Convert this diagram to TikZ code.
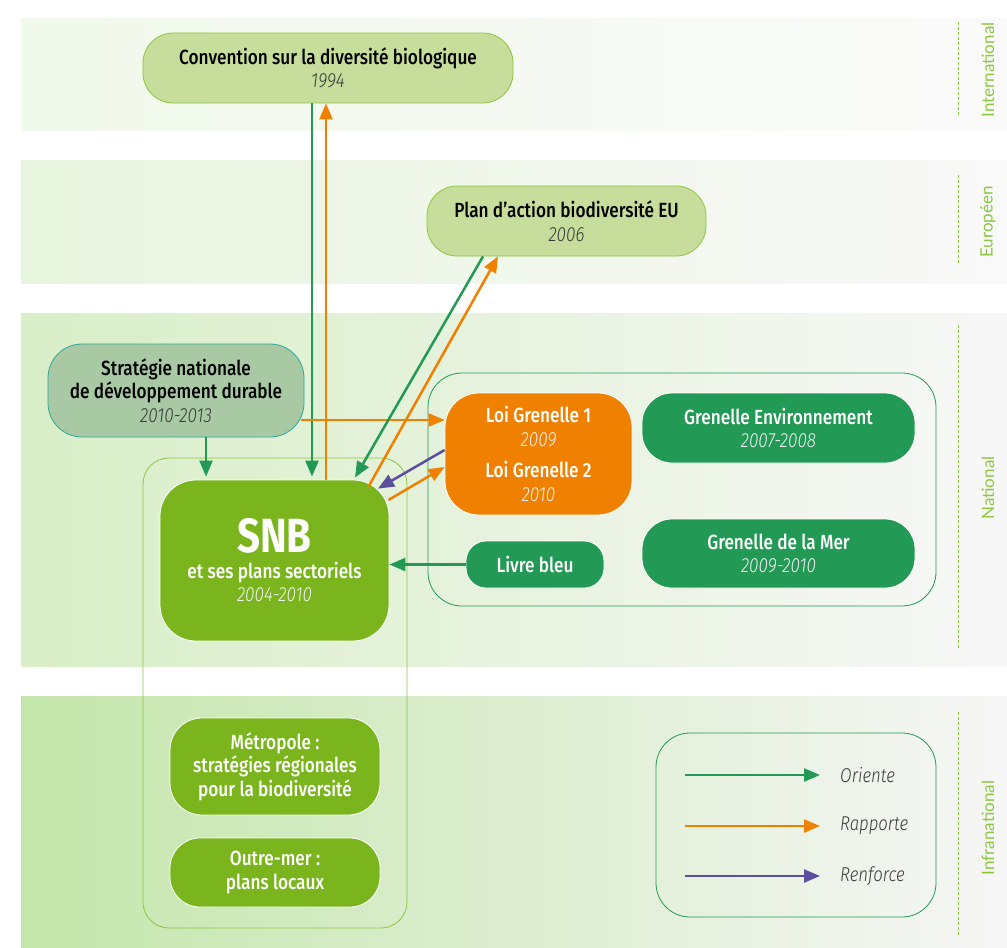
\documentclass[tikz,border=0pt]{standalone}
\usepackage{fontspec}
\setmainfont{Fira Sans}[FakeStretch=0.84, UprightFont={* Medium}, ItalicFont={* Italic}, BoldFont={* Bold}]
\newfontfamily\anneefont{Fira Sans}[FakeStretch=0.84, UprightFont={* Light Italic}]
\newfontfamily\bandfont{Lato}
\usetikzlibrary{arrows.meta,calc,positioning}

\definecolor{vertfonce}{HTML}{229954}
\definecolor{vertsnb}{HTML}{7AB51D}
\definecolor{vertpale}{HTML}{C6DD9C}
\definecolor{bordpale}{HTML}{8DC63F}
\definecolor{grisvert}{HTML}{A9C9A5}
\definecolor{sarcelle}{HTML}{2BAA98}
\definecolor{orangeg}{HTML}{F08000}
\definecolor{violetr}{HTML}{5B4E9F}
\definecolor{gristexte}{HTML}{3A3A3A}

\tikzset{
  boite/.style={rectangle, rounded corners=30pt, align=center, inner sep=0pt,
    font=\fontsize{20.5}{23.5}\selectfont},
  claire/.style={boite, fill=vertpale, draw=bordpale, line width=0.8pt},
  foncee/.style={boite, fill=vertfonce, draw=white, line width=0.8pt, text=white},
  snbbox/.style={boite, fill=vertsnb, draw=white, line width=0.8pt, text=white},
  zone/.style={rectangle, rounded corners=30pt, line width=0.8pt},
  fleche/.style={line width=2.5pt, -{Triangle[length=16pt,width=13pt]}},
  oriente/.style={fleche, vertfonce},
  rapporte/.style={fleche, orangeg},
  renforce/.style={fleche, violetr},
  tirets/.style={bordpale, line width=1pt, dash pattern=on 3pt off 2pt},
  bandlabel/.style={rotate=90, text=bordpale, font=\bandfont\fontsize{17}{19}\selectfont},
  legende/.style={anchor=west, inner sep=0pt, text=gristexte, font=\anneefont\fontsize{20}{22}\selectfont}
}
\newcommand{\annee}[1]{{\anneefont\color{gristexte}#1}}
\newcommand{\anneeb}[1]{{\anneefont\color{white!90!gray}#1}}

\begin{document}
\begin{tikzpicture}[x=1pt,y=-1pt]
\useasboundingbox (0,0) rectangle (1007,948);

% niveaux
\shade[left color=green!40!olive!8!white, right color=white!96!gray] (21,18) rectangle (1007,130);
\shade[left color=green!40!olive!13!white, right color=white!95!gray] (21,160) rectangle (1007,283);
\shade[left color=green!40!olive!22!white, right color=white!94!gray] (21,313) rectangle (1007,666);
\shade[left color=green!40!olive!33!white, right color=white!93!gray] (21,696) rectangle (1007,948);

\draw[tirets] (958,22) -- (958,115);
\draw[tirets] (958,175) -- (958,265);
\draw[tirets] (958,325) -- (958,648);
\draw[tirets] (958,712) -- (958,935);
\node[bandlabel] (linter) at (988,70) {International};
\node[bandlabel] (leuro) at (988,222) {Européen};
\node[bandlabel] (lnat) at (988,488) {National};
\node[bandlabel] (linfra) at (988,828) {Infranational};

% cadres
\node[zone, draw=bordpale, minimum width=264pt, minimum height=470pt, rounded corners=26pt] (snbzone) at (275,693) {};
\node[zone, draw=vertfonce, minimum width=508pt, minimum height=233pt, rounded corners=34pt] (natzone) at (682,489.5) {};
\node[zone, draw=vertfonce, minimum width=280pt, minimum height=184pt, rounded corners=34pt] (legzone) at (796,825) {};

% boites
\node[claire, minimum width=370pt, minimum height=70pt] (cdb) at (328,68)
  {Convention sur la diversité biologique\\\annee{1994}};
\node[claire, minimum width=279pt, minimum height=70pt] (eu) at (566.5,221)
  {Plan d’action biodiversité EU\\\annee{2006}};
\node[boite, fill=grisvert, draw=sarcelle, line width=0.8pt, minimum width=256pt, minimum height=93pt, rounded corners=34pt] (sndd) at (176,390.5)
  {Stratégie nationale\\de développement durable\\\annee{2010-2013}};
\node[snbbox, minimum width=229pt, minimum height=161pt, rounded corners=36pt] (snb) at (274.5,560.5)
  {{\bfseries\fontsize{48}{36}\selectfont SNB}\\[2pt]et ses plans sectoriels\\\anneeb{2004-2010}};
\node[boite, fill=orangeg, draw=white, line width=0.8pt, text=white, minimum width=187pt, minimum height=122pt, rounded corners=34pt] (loi) at (538.5,454)
  {Loi Grenelle 1\\\anneeb{2009}\\[8pt]Loi Grenelle 2\\\anneeb{2010}};
\node[foncee, minimum width=273pt, minimum height=70pt] (genv) at (778.5,428)
  {Grenelle Environnement\\\anneeb{2007-2008}};
\node[foncee, minimum width=273pt, minimum height=69pt] (gmer) at (778.5,553.5)
  {Grenelle de la Mer\\\anneeb{2009-2010}};
\node[foncee, minimum width=138pt, minimum height=47pt, rounded corners=20pt] (livre) at (535,564.5)
  {Livre bleu};
\node[snbbox, minimum width=210pt, minimum height=97pt, rounded corners=32pt] (metro) at (275,766.5)
  {Métropole :\\stratégies régionales\\pour la biodiversité};
\node[snbbox, minimum width=210pt, minimum height=69pt] (outre) at (275,872.5)
  {Outre-mer :\\plans locaux};

% liens
\draw[oriente] ($(cdb.south)+(-16,0)$) -- ($(snb.north)+(37.5,-3)$);
\draw[rapporte] ($(snb.north)+(51.5,0)$) -- ($(cdb.south)+(-2,0)$);
\draw[oriente] ($(sndd.south)+(30,0)$) -- ($(snb.north)+(-68.5,-3)$);
\draw[rapporte] ($(sndd.east)+(-3,29.5)$) -- ($(loi.west)+(0,-34)$);
\draw[oriente] ($(eu.south)+(-83.5,0)$) -- ($(snb.north)+(80.5,-2)$);
\draw[rapporte] ($(snb.north)+(94,7)$) -- ($(eu.south)+(-68.5,0)$);
\draw[renforce] ($(loi.west)+(0,-4)$) -- ($(snb.north)+(103.5,9)$);
\draw[rapporte] ($(snb.east)+(-1,-60.5)$) -- ($(loi.west)+(0,13)$);
\draw[oriente] (livre.west) -- (livre.west -| snb.east);

% legende
\node[legende] (lor) at (840,775) {Oriente};
\node[legende] (lra) at (840,826) {Rapporte};
\node[legende] (lre) at (840,876) {Renforce};
\coordinate (dor) at (685,775);
\coordinate (dra) at (685,826);
\coordinate (dre) at (685,876);
\draw[oriente] (dor) -- ([xshift=-20pt]lor.west);
\draw[rapporte] (dra) -- ([xshift=-20pt]lra.west);
\draw[renforce] (dre) -- ([xshift=-20pt]lre.west);
\end{tikzpicture}
\end{document}
